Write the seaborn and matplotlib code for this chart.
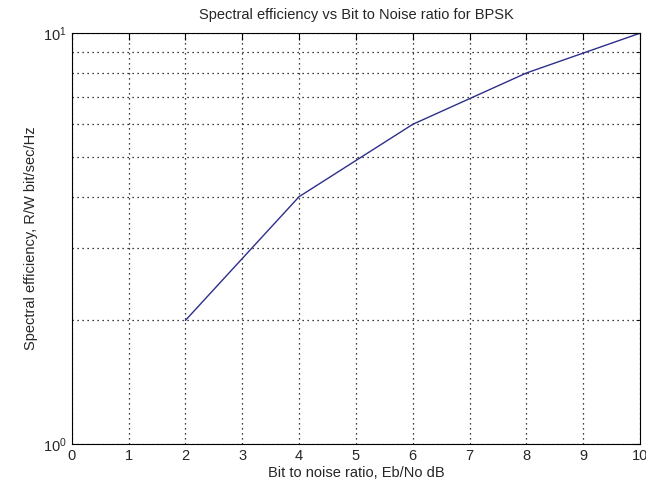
import matplotlib
matplotlib.use("Agg")
import matplotlib.pyplot as plt
import seaborn as sns
import pandas as pd
from matplotlib.ticker import LogLocator, NullFormatter

ebno_db = [2, 4, 6, 8, 10]
spectral_eff = [2, 4, 6, 8, 10]
x_ticks = [0, 1, 2, 3, 4, 5, 6, 7, 8, 9, 10]

sns.set_style("white")
plt.rcParams['font.family'] = ['Liberation Sans', 'DejaVu Sans']
plt.rcParams['mathtext.fontset'] = 'custom'
plt.rcParams['mathtext.rm'] = 'Liberation Sans'

df = pd.DataFrame({"x": ebno_db, "y": spectral_eff})

fig = plt.figure(figsize=(6.46, 4.87), dpi=100)
ax = fig.add_axes([0.111, 0.088, 0.880, 0.844])
sns.lineplot(data=df, x="x", y="y", ax=ax, color="#2e2e8c", linewidth=1.0)
ax.set_yscale("log")
ax.set_xlim(0, 10)
ax.set_ylim(1, 10)
ax.set_xticks(x_ticks)
ax.yaxis.set_major_locator(LogLocator(base=10))
ax.yaxis.set_minor_locator(LogLocator(base=10, subs=range(2, 10)))
ax.yaxis.set_minor_formatter(NullFormatter())
dot = (0, (1, 3))
ax.grid(True, which="major", axis="x", linestyle=dot, color="black", linewidth=0.9)
ax.grid(True, which="both", axis="y", linestyle=dot, color="black", linewidth=0.9)
ax.tick_params(which="both", direction="in", top=True, right=True, labelsize=10.5, color="black")
ax.tick_params(which="major", length=5)
ax.tick_params(which="minor", length=3)
for s in ax.spines.values():
    s.set_color("black")
    s.set_linewidth(0.8)
ax.set_title("Spectral efficiency vs Bit to Noise ratio for BPSK", fontsize=10.5, pad=10)
ax.set_xlabel("Bit to noise ratio, Eb/No dB", fontsize=10.5, labelpad=2.5)
ax.set_ylabel("Spectral efficiency, R/W bit/sec/Hz", fontsize=10.5)
fig.savefig("out.png", dpi=100)
